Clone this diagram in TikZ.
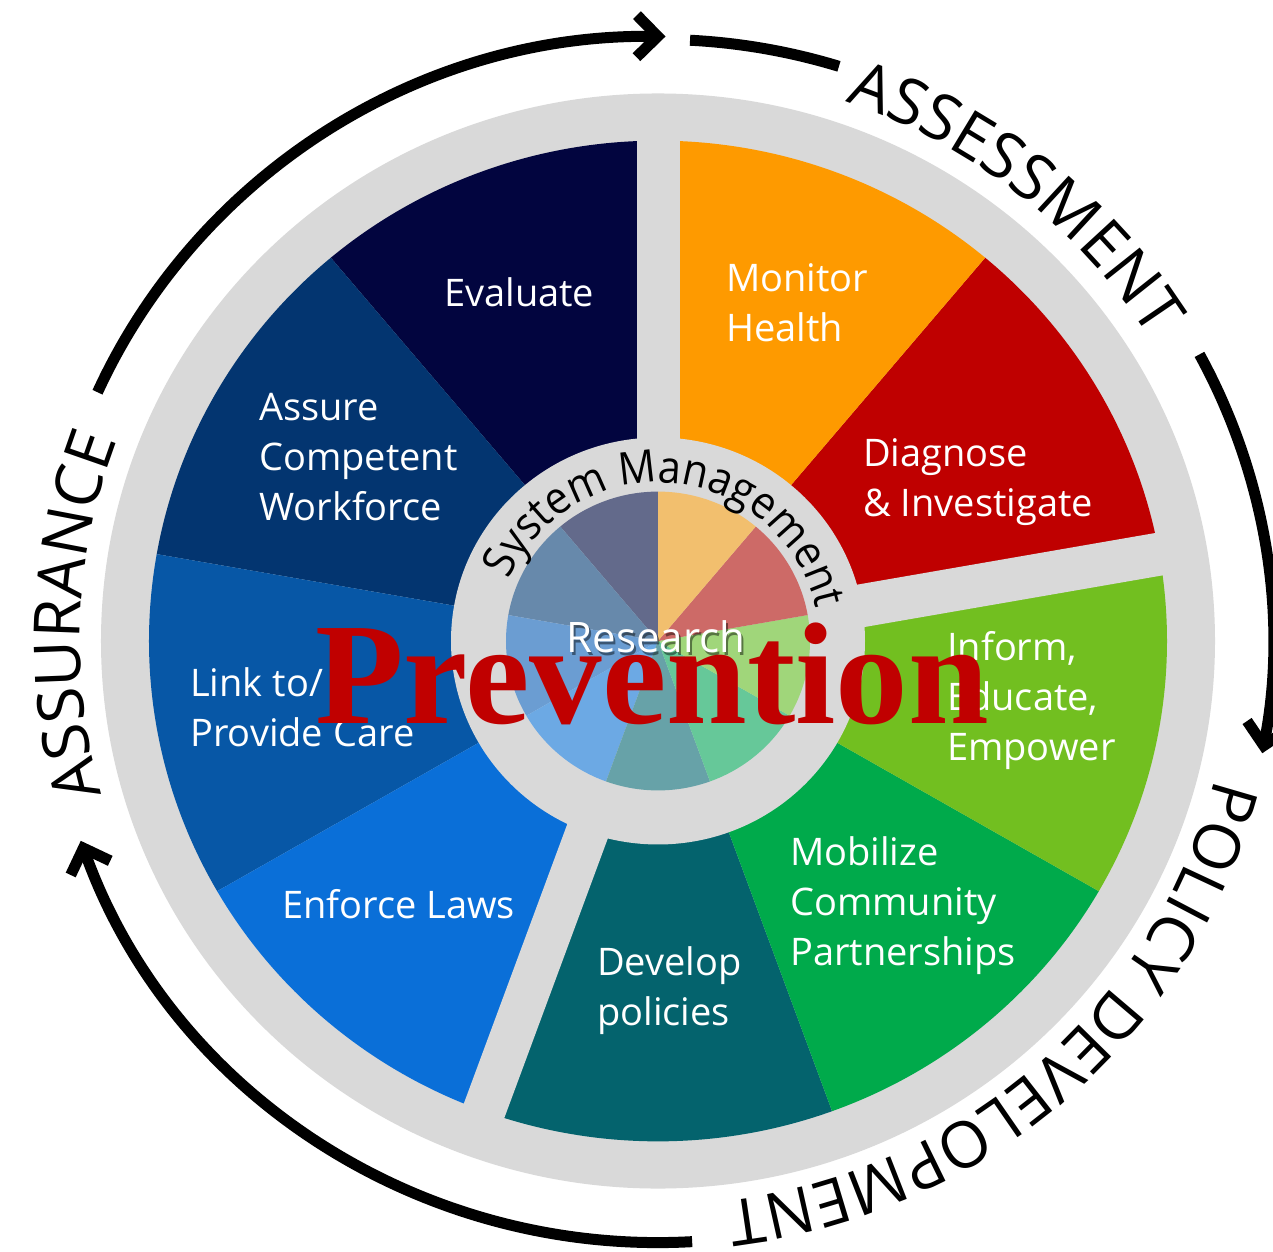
\documentclass[tikz,border=0pt]{standalone}
\usepackage{fontspec}
\setmainfont{Open Sans}
\newfontfamily\prevfont{Liberation Serif}
\newfontfamily\sysfam{Open Sans}[FakeStretch=0.92]
\usetikzlibrary{arrows.meta,decorations.text}
\definecolor{ringgray}{HTML}{D9D9D9}
\definecolor{evalc}{HTML}{02053F}
\definecolor{assurec}{HTML}{033570}
\definecolor{linkc}{HTML}{0757A6}
\definecolor{enforcec}{HTML}{0A6FD8}
\definecolor{developc}{HTML}{04636D}
\definecolor{mobilizec}{HTML}{00AA4B}
\definecolor{informc}{HTML}{72BF20}
\definecolor{diagnosec}{HTML}{BF0000}
\definecolor{monitorc}{HTML}{FE9A00}
\definecolor{evalt}{HTML}{636A8B}
\definecolor{assuret}{HTML}{6789AB}
\definecolor{linkt}{HTML}{6B9DD2}
\definecolor{enforcet}{HTML}{6CA9E4}
\definecolor{developt}{HTML}{67A2A8}
\definecolor{mobilizet}{HTML}{66C899}
\definecolor{informt}{HTML}{A0D67A}
\definecolor{diagnoset}{HTML}{CD6A67}
\definecolor{monitort}{HTML}{F2BF6E}
\definecolor{prevred}{HTML}{C00000}
\newcommand\ringfont{\fontsize{64}{64}\selectfont}
\newcommand\sysfont{\sysfam\fontsize{45}{45}\selectfont}
\newcommand\wlines[1]{\begin{tabular}[t]{@{}l@{}}#1\end{tabular}}
\tikzset{
  wlabel/.style={text=white, inner sep=0pt, anchor=base west, font=\fontsize{38}{50}\selectfont},
  ringline/.style={line width=11pt, line cap=butt, draw=black},
  ringarrow/.style={ringline, -{Straight Barb[length=21pt, width=42pt, sharp]}},
  ringtext/.style={decorate, decoration={text along path, text align=center, text color=black, text={|\ringfont|#1}}},
  systext/.style={decorate, decoration={text along path, text align=center, text color=black, text={|\sysfont|#1}}},
  gapband/.style={draw=ringgray, line width=43pt}
}
\begin{document}
\begin{tikzpicture}[x=1pt, y=1pt]
\useasboundingbox (-658,-610) rectangle (615,641);
\fill[white] (-658,-610) rectangle (615,641);
\begin{scope}[y=0.983pt]
  % background disc
  \fill[ringgray] (0,0) circle[radius=557];
  % outer wedges
  \foreach \a/\c in {90/evalc,130/assurec,170/linkc,210/enforcec,250/developc,290/mobilizec,330/informc,370/diagnosec,410/monitorc}
    \fill[\c] (0,0) -- (\a:509) arc[start angle=\a, delta angle=40, radius=509] -- cycle;
  % gaps between groups
  \foreach \a in {90,10,250}
    \draw[gapband] (0,0) -- (\a:535);
  % hub
  \fill[ringgray] (0,0) circle[radius=207];
  \foreach \a/\c in {90/evalt,130/assuret,170/linkt,210/enforcet,250/developt,290/mobilizet,330/informt,370/diagnoset,410/monitort}
    \fill[\c] (0,0) -- (\a:152) arc[start angle=\a, delta angle=40, radius=152] -- cycle;
  \path[systext={System Management}] (175:161) arc[start angle=175, end angle=-6, radius=161];
  % outer cycle arrows
  \coordinate (a1s) at (155.7:615);
  \coordinate (a2s) at (87:612);
  \coordinate (a3s) at (28.3:615);
  \coordinate (a4s) at (-86.8:612);
  \draw[ringarrow] (a1s) arc[start angle=155.7, end angle=89.3, radius=615];
  \draw[ringline] (a2s) arc[start angle=87, end angle=72.8, radius=612];
  \draw[ringarrow] (a3s) arc[start angle=28.3, end angle=-10.7, radius=615];
  \draw[ringarrow] (a4s) arc[start angle=-86.8, end angle=-160.6, radius=612];
  % ring texts
  \path[ringtext={ASSESSMENT}] (85:580) arc[start angle=85, end angle=18, radius=580];
  \path[ringtext={POLICY DEVELOPMENT}] (-3:574) arc[start angle=-3, end angle=-94, radius=574];
  \path[ringtext={ASSURANCE}] (212:578) arc[start angle=212, end angle=143, radius=578];
\end{scope}
% wedge labels
\node[wlabel] (evaluate) at (-214,335) {\wlines{Evaluate}};
\node[wlabel] (monitor) at (68,349) {\wlines{Monitor\\Health}};
\node[wlabel] (diagnose) at (205,175) {\wlines{Diagnose\\\& Investigate}};
\node[wlabel] (inform) at (289,-19) {\wlines{Inform,\\Educate,\\Empower}};
\node[wlabel] (mobilize) at (132,-224) {\wlines{Mobilize\\Community\\Partnerships}};
\node[wlabel] (develop) at (-61,-334) {\wlines{Develop\\policies}};
\node[wlabel] (enforce) at (-376,-277) {\wlines{Enforce Laws}};
\node[wlabel] (link) at (-468,-55) {\wlines{Link to/\\Provide Care}};
\node[wlabel] (assure) at (-399,221) {\wlines{Assure\\Competent\\Workforce}};
% centre
\node[inner sep=0pt, anchor=base, text=black, opacity=0.45, font=\fontsize{42}{42}\selectfont] (researchshadow) at (0,-14) {Research};
\node[inner sep=0pt, anchor=base, text=white, font=\fontsize{42}{42}\selectfont] (research) at (-2,-11) {Research};
\node[inner sep=0pt, anchor=base, text=prevred, font=\prevfont\bfseries\fontsize{145}{145}\selectfont] (prevention) at (-6,-82) {Prevention};
\end{tikzpicture}
\end{document}
